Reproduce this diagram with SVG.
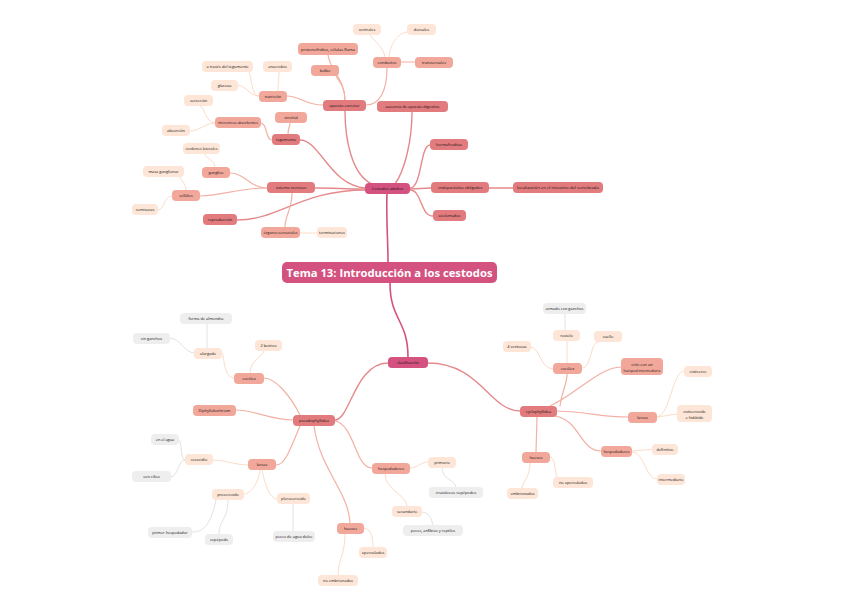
<svg xmlns="http://www.w3.org/2000/svg" width="848" height="599" viewBox="0 0 848 599">
<style>
.l1{fill:#d4527f}.l2{fill:#e27b7e}.l3{fill:#f1a89b}.l4{fill:#fde6d7}.l5{fill:#eeeeee}
text{font-family:"Open Sans","DejaVu Sans",sans-serif;font-size:3.9px;fill:#111111;text-anchor:middle;dominant-baseline:central}
.title{font-size:11px;font-weight:700;fill:#ffffff}
path{fill:none;stroke-linecap:round}
.c1{stroke:#d4527f;stroke-width:1.6}.c2{stroke:#e58a8c;stroke-width:1.4}.c3{stroke:#f3b0a4;stroke-width:1.2}.c4{stroke:#fcdcc8;stroke-width:1}.c5{stroke:#e2e2e2;stroke-width:1}
</style>
<rect width="848" height="599" fill="#ffffff"/>
<g id="connectors">
<path class="c1" d="M388 262 C388 240 386 215 387 194"/>
<path class="c1" d="M390 283 C390 320 408 320 408 357"/>
<path class="c2" d="M372 184 C352 175 345 140 345 111"/>
<path class="c2" d="M395 184 C405 170 412 140 412 112"/>
<path class="c2" d="M366 188 C330 186 320 140 300 140"/>
<path class="c2" d="M366 189 C345 189 335 188 315 188"/>
<path class="c2" d="M366 190 C300 190 280 220 237 220"/>
<path class="c2" d="M410 188 C422 188 420 145 430 145"/>
<path class="c2" d="M410 189 L431 188"/>
<path class="c2" d="M410 190 C422 190 420 216 433 216"/>
<path class="c2" d="M489 188 L513 188"/>
<path class="c3" d="M345 100 C345 80 330 70 328 55"/>
<path class="c3" d="M345 100 C345 88 340 82 336 76"/>
<path class="c3" d="M366 105 C380 105 387 90 387 68"/>
<path class="c3" d="M323 105 C305 105 300 96 287 96"/>
<path class="c3" d="M401 62 L415 62"/>
<path class="c3" d="M288 134 C288 128 290 126 290 123"/>
<path class="c3" d="M272 140 C265 140 268 123 260 123"/>
<path class="c3" d="M267 188 C250 188 245 173 230 173"/>
<path class="c3" d="M267 188 C240 188 220 196 200 196"/>
<path class="c3" d="M292 193 C292 210 285 215 285 227"/>
<path class="c4" d="M385 57 C383 45 372 40 370 35"/>
<path class="c4" d="M389 57 C390 42 400 32 408 32"/>
<path class="c4" d="M278 91 C278 82 279 78 279 72"/>
<path class="c4" d="M259 96 C250 96 252 71 248 71"/>
<path class="c4" d="M259 96 C250 96 245 85 238 85"/>
<path class="c4" d="M215 123 C205 123 205 106 200 106"/>
<path class="c4" d="M215 123 C205 123 200 131 190 131"/>
<path class="c4" d="M215 167 C215 160 205 158 205 154"/>
<path class="c4" d="M186 190 C186 183 180 180 180 177"/>
<path class="c4" d="M172 196 C163 196 165 210 158 210"/>
<path class="c4" d="M300 233 L317 233"/>
<path class="c2" d="M388 363 C355 363 350 420 335 420"/>
<path class="c2" d="M428 363 C480 363 490 411 520 411"/>
<path class="c3" d="M300 415 C290 395 275 378 264 378"/>
<path class="c3" d="M293 420 C270 420 255 410 236 410"/>
<path class="c3" d="M300 426 C290 450 285 465 276 465"/>
<path class="c3" d="M314 426 C320 470 348 490 350 523"/>
<path class="c3" d="M335 421 C355 425 355 468 372 468"/>
<path class="c4" d="M250 373 C250 360 262 358 264 351"/>
<path class="c4" d="M234 378 C222 378 225 353 222 353"/>
<path class="c4" d="M248 465 C235 465 225 460 213 460"/>
<path class="c4" d="M260 470 C258 485 250 494 244 494"/>
<path class="c4" d="M262 470 C265 485 270 499 277 499"/>
<path class="c4" d="M410 468 C418 468 420 462 428 462"/>
<path class="c4" d="M385 474 C385 490 407 495 407 506"/>
<path class="c4" d="M364 528 C372 528 373 540 373 547"/>
<path class="c4" d="M345 534 C345 555 338 560 338 575"/>
<path class="c5" d="M207 348 L207 324"/>
<path class="c5" d="M194 353 C185 353 180 338 170 338"/>
<path class="c5" d="M185 460 C180 460 182 440 179 440"/>
<path class="c5" d="M185 460 C178 460 178 477 171 477"/>
<path class="c5" d="M216 500 C210 530 200 532 192 532"/>
<path class="c5" d="M228 500 C228 520 219 520 219 534"/>
<path class="c5" d="M293 504 L293 531"/>
<path class="c5" d="M442 468 C442 480 456 480 456 487"/>
<path class="c5" d="M422 512 C432 512 432 525 433 525"/>
<path class="c3" d="M560 406 C562 390 567 385 567 374"/>
<path class="c3" d="M550 406 C575 395 600 367 621 367"/>
<path class="c3" d="M557 411 C590 412 600 417 628 417"/>
<path class="c3" d="M555 416 C580 420 580 451 601 451"/>
<path class="c3" d="M537 417 L536 452"/>
<path class="c4" d="M553 369 C540 369 540 347 531 347"/>
<path class="c4" d="M567 363 L567 341"/>
<path class="c4" d="M582 368 C592 368 590 342 598 342"/>
<path class="c4" d="M657 417 C670 417 672 371 684 371"/>
<path class="c4" d="M657 417 L677 414"/>
<path class="c4" d="M632 451 L652 449.5"/>
<path class="c4" d="M632 452 C645 452 645 479 657 479"/>
<path class="c4" d="M550 457 C557 457 554 482 560 482"/>
<path class="c4" d="M530 463 C530 478 522 482 522 488"/>
<path class="c5" d="M565 330 L565 314"/>
</g>
<g id="title"><rect class="l1" x="282" y="262" width="215" height="21" rx="5"/><text class="title" x="389.5" y="272.5" textLength="206" lengthAdjust="spacingAndGlyphs">Tema 13: Introducción a los cestodos</text></g>
<g id="n-adultos"><rect class="l1" x="365" y="183" width="45" height="11" rx="4"/><text x="387.5" y="188.5">Cestodos adultos</text></g>
<g id="n-clasificacion"><rect class="l1" x="388" y="357" width="40" height="11" rx="4"/><text x="408" y="362.5">clasificación</text></g>
<g id="n-excretor"><rect class="l2" x="323" y="100" width="43" height="11" rx="4"/><text x="344.5" y="105.5">aparato excretor</text></g>
<g id="n-digestivo"><rect class="l2" x="377" y="101" width="71" height="11" rx="4"/><text x="412.5" y="106.5">ausencia de aparato digestivo</text></g>
<g id="n-tegumento"><rect class="l2" x="272" y="134" width="28" height="11" rx="4"/><text x="286" y="139.5">tegumento</text></g>
<g id="n-nervioso"><rect class="l2" x="267" y="182" width="48" height="11" rx="4"/><text x="291" y="187.5">sistema nervioso</text></g>
<g id="n-reproduccion"><rect class="l2" x="203" y="214" width="34" height="11" rx="4"/><text x="220" y="219.5">reproducción</text></g>
<g id="n-hermafroditas"><rect class="l2" x="430" y="139" width="38" height="11" rx="4"/><text x="449" y="144.5">hermafroditas</text></g>
<g id="n-endoparasitos"><rect class="l2" x="431" y="182" width="58" height="11" rx="4"/><text x="460" y="187.5">endoparásitos obligados</text></g>
<g id="n-localizacion"><rect class="l2" x="513" y="182" width="90" height="11" rx="4"/><text x="558" y="187.5" textLength="82" lengthAdjust="spacingAndGlyphs">localización en el intestino del vertebrado</text></g>
<g id="n-acelomados"><rect class="l2" x="433" y="210" width="33" height="11" rx="4"/><text x="449.5" y="215.5">acelomados</text></g>
<g id="n-protonefridios"><rect class="l3" x="298" y="43" width="60" height="12" rx="4"/><text x="328" y="49" textLength="54" lengthAdjust="spacingAndGlyphs">protonefridios, células flama</text></g>
<g id="n-bulbo"><rect class="l3" x="311" y="65" width="28" height="11" rx="4"/><text x="325" y="70.5">bulbo</text></g>
<g id="n-conductos"><rect class="l3" x="373" y="57" width="28" height="11" rx="4"/><text x="387" y="62.5">conductos</text></g>
<g id="n-transversales"><rect class="l3" x="415" y="57" width="38" height="11" rx="4"/><text x="434" y="62.5">transversales</text></g>
<g id="n-nutricion"><rect class="l3" x="259" y="91" width="28" height="11" rx="4"/><text x="273" y="96.5">nutrición</text></g>
<g id="n-sincitial"><rect class="l3" x="275" y="112" width="32" height="11" rx="4"/><text x="291" y="117.5">sincitial</text></g>
<g id="n-microtricos"><rect class="l3" x="215" y="117" width="46" height="11" rx="4"/><text x="238" y="122.5" textLength="40" lengthAdjust="spacingAndGlyphs">microtricos absorbentes</text></g>
<g id="n-ganglios"><rect class="l3" x="202" y="167" width="28" height="11" rx="4"/><text x="216" y="172.5">ganglios</text></g>
<g id="n-cefalico"><rect class="l3" x="172" y="190" width="28" height="11" rx="4"/><text x="186" y="195.5">cefálico</text></g>
<g id="n-sensoriales"><rect class="l3" x="261" y="227" width="39" height="11" rx="4"/><text x="280.5" y="232.5" textLength="34" lengthAdjust="spacingAndGlyphs">órganos sensoriales</text></g>
<g id="n-ventrales"><rect class="l4" x="353" y="24" width="28" height="11" rx="4"/><text x="367" y="29.5">ventrales</text></g>
<g id="n-dorsales"><rect class="l4" x="407" y="24" width="29" height="11" rx="4"/><text x="421.5" y="29.5">dorsales</text></g>
<g id="n-anaerobio"><rect class="l4" x="263" y="61" width="29" height="11" rx="4"/><text x="277.5" y="66.5">anaerobio</text></g>
<g id="n-traves"><rect class="l4" x="202" y="61" width="51" height="11" rx="4"/><text x="227.5" y="66.5">a través del tegumento</text></g>
<g id="n-glucosa"><rect class="l4" x="211" y="80" width="27" height="11" rx="4"/><text x="224.5" y="85.5">glucosa</text></g>
<g id="n-secrecion"><rect class="l4" x="184" y="95" width="29" height="11" rx="4"/><text x="198.5" y="100.5">secreción</text></g>
<g id="n-absorcion"><rect class="l4" x="162" y="125" width="28" height="11" rx="4"/><text x="176" y="130.5">absorción</text></g>
<g id="n-cordones"><rect class="l4" x="183" y="143" width="37" height="11" rx="4"/><text x="201.5" y="148.5" textLength="32" lengthAdjust="spacingAndGlyphs">cordones laterales</text></g>
<g id="n-masa"><rect class="l4" x="143" y="166" width="41" height="11" rx="4"/><text x="163.5" y="171.5">masa ganglionar</text></g>
<g id="n-comisuras"><rect class="l4" x="132" y="204" width="26" height="11" rx="4"/><text x="145" y="209.5">comisuras</text></g>
<g id="n-terminaciones"><rect class="l4" x="317" y="227" width="30" height="11" rx="4"/><text x="332" y="232.5">terminaciones</text></g>
<g id="n-pseudo"><rect class="l2" x="293" y="415" width="42" height="11" rx="4"/><text x="314" y="420.5">pseudophyllidea</text></g>
<g id="n-cyclo"><rect class="l2" x="520" y="406" width="37" height="11" rx="4"/><text x="538.5" y="411.5">cyclophyllidea</text></g>
<g id="n-escolex-p"><rect class="l3" x="234" y="373" width="30" height="11" rx="4"/><text x="249" y="378.5">escólex</text></g>
<g id="n-diphyllo"><rect class="l3" x="193" y="405" width="43" height="11" rx="4"/><text x="214.5" y="410.5">Diphyllobothrium</text></g>
<g id="n-larvas-p"><rect class="l3" x="248" y="459" width="28" height="11" rx="4"/><text x="262" y="464.5">larvas</text></g>
<g id="n-huevos-p"><rect class="l3" x="337" y="523" width="27" height="11" rx="4"/><text x="350.5" y="528.5">huevos</text></g>
<g id="n-hosp-p"><rect class="l3" x="372" y="463" width="38" height="11" rx="4"/><text x="391" y="468.5">hospedadores</text></g>
<g id="n-botrios"><rect class="l4" x="255" y="340" width="27" height="11" rx="4"/><text x="268.5" y="345.5">2 botrios</text></g>
<g id="n-alargado"><rect class="l4" x="194" y="348" width="28" height="11" rx="4"/><text x="208" y="353.5">alargado</text></g>
<g id="n-almendra"><rect class="l5" x="180" y="313" width="52" height="11" rx="4"/><text x="206" y="318.5">forma de almendra</text></g>
<g id="n-singanchos"><rect class="l5" x="133" y="333" width="37" height="11" rx="4"/><text x="151.5" y="338.5">sin ganchos</text></g>
<g id="n-coracidio"><rect class="l4" x="185" y="454" width="28" height="11" rx="4"/><text x="199" y="459.5">coracidio</text></g>
<g id="n-agua"><rect class="l5" x="151" y="434" width="28" height="11" rx="4"/><text x="165" y="439.5">en el agua</text></g>
<g id="n-cilios"><rect class="l5" x="132" y="471" width="39" height="11" rx="4"/><text x="151.5" y="476.5">con cilios</text></g>
<g id="n-procercoide"><rect class="l4" x="212" y="489" width="32" height="11" rx="4"/><text x="228" y="494.5">procercoide</text></g>
<g id="n-primerhosp"><rect class="l5" x="148" y="527" width="44" height="11" rx="4"/><text x="170" y="532.5">primer hospedador</text></g>
<g id="n-copepodo"><rect class="l5" x="205" y="534" width="28" height="11" rx="4"/><text x="219" y="539.5">copépodo</text></g>
<g id="n-plerocercoide"><rect class="l4" x="277" y="493" width="33" height="11" rx="4"/><text x="293.5" y="498.5">plerocercoide</text></g>
<g id="n-peces"><rect class="l5" x="273" y="531" width="42" height="11" rx="4"/><text x="294" y="536.5" textLength="37" lengthAdjust="spacingAndGlyphs">peces de agua dulce</text></g>
<g id="n-primario"><rect class="l4" x="428" y="457" width="28" height="11" rx="4"/><text x="442" y="462.5">primario</text></g>
<g id="n-crustaceos"><rect class="l5" x="429" y="487" width="54" height="11" rx="4"/><text x="456" y="492.5">crustáceos copépodos</text></g>
<g id="n-secundario"><rect class="l4" x="392" y="506" width="30" height="11" rx="4"/><text x="407" y="511.5">secundario</text></g>
<g id="n-anfibios"><rect class="l5" x="403" y="525" width="60" height="11" rx="4"/><text x="433" y="530.5">peces, anfibios y reptiles</text></g>
<g id="n-operculados"><rect class="l4" x="359" y="547" width="28" height="11" rx="4"/><text x="373" y="552.5">operculados</text></g>
<g id="n-noembrionados"><rect class="l4" x="318" y="575" width="40" height="11" rx="4"/><text x="338" y="580.5">no embrionados</text></g>
<g id="n-escolex-c"><rect class="l3" x="553" y="363" width="29" height="11" rx="4"/><text x="567.5" y="368.5">escólex</text></g>
<g id="n-ciclo"><rect class="l3" x="621" y="358" width="42" height="17" rx="4"/><text x="642" y="364">ciclo con un</text><text x="642" y="370" textLength="37" lengthAdjust="spacingAndGlyphs">huésped intermediario</text></g>
<g id="n-larvas-c"><rect class="l3" x="628" y="412" width="29" height="11" rx="4"/><text x="642.5" y="417.5">larvas</text></g>
<g id="n-hosp-c"><rect class="l3" x="601" y="446" width="31" height="11" rx="4"/><text x="616.5" y="451.5">hospedadores</text></g>
<g id="n-huevos-c"><rect class="l3" x="522" y="452" width="28" height="11" rx="4"/><text x="536" y="457.5">huevos</text></g>
<g id="n-ventosas"><rect class="l4" x="503" y="341" width="28" height="11" rx="4"/><text x="517" y="346.5">4 ventosas</text></g>
<g id="n-rostelo"><rect class="l4" x="553" y="330" width="27" height="11" rx="4"/><text x="566.5" y="335.5">rostelo</text></g>
<g id="n-armado"><rect class="l5" x="543" y="303" width="43" height="11" rx="4"/><text x="564.5" y="308.5">armado con ganchos</text></g>
<g id="n-cuello"><rect class="l4" x="594" y="331" width="28" height="11" rx="4"/><text x="608" y="336.5">cuello</text></g>
<g id="n-cisticerco"><rect class="l4" x="684" y="366" width="28" height="11" rx="4"/><text x="698" y="371.5">cisticerco</text></g>
<g id="n-cisticercoide"><rect class="l4" x="677" y="405" width="35" height="17" rx="4"/><text x="694.5" y="411">cisticercoide</text><text x="694.5" y="417">e hidátide</text></g>
<g id="n-definitivo"><rect class="l4" x="652" y="444" width="26" height="11" rx="4"/><text x="665" y="449.5">definitivo</text></g>
<g id="n-intermediario"><rect class="l4" x="657" y="474" width="28" height="11" rx="4"/><text x="671" y="479.5">intermediario</text></g>
<g id="n-nooperculados"><rect class="l4" x="553" y="477" width="40" height="11" rx="4"/><text x="573" y="482.5">no operculados</text></g>
<g id="n-embrionados"><rect class="l4" x="507" y="488" width="31" height="11" rx="4"/><text x="522.5" y="493.5">embrionados</text></g>
</svg>
